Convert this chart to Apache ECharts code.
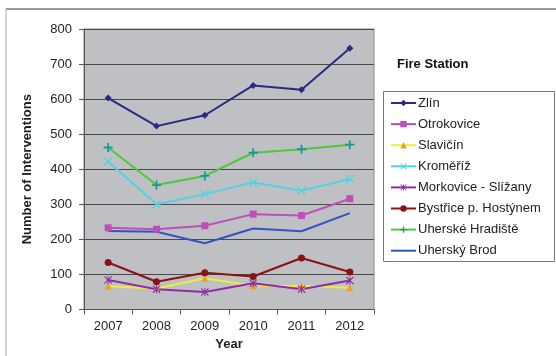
<!DOCTYPE html>
<html>
<head>
<meta charset="utf-8">
<script src="https://cdn.jsdelivr.net/npm/echarts@6/dist/echarts.min.js"></script>
<style>
  html, body { margin: 0; padding: 0; background: #fff; }
  #chart { width: 556px; height: 356px; }
</style>
</head>
<body>
<div id="chart"></div>
<script>
// Yearly interventions per fire station
const years = ['2007', '2008', '2009', '2010', '2011', '2012'];
const zlin        = [603, 523, 554, 639, 627, 745];
const otrokovice  = [233, 229, 239, 272, 268, 316];
const slavicin    = [66, 60, 89, 68, 67, 62];
const kromeriz    = [422, 300, 329, 362, 339, 372];
const morkovice   = [84, 58, 50, 75, 58, 83];
const bystrice    = [134, 79, 105, 94, 147, 107];
const hradiste    = [462, 355, 381, 447, 457, 470];
const brod        = [224, 222, 189, 231, 223, 275];
const yTicks = { min: 0, max: 800, step: 100 };

const FONT = '"Liberation Sans", Arial, sans-serif';

// marker shapes
const PLUS = 'path://M4,0H6V4H10V6H6V10H4V6H0V4H4Z';
const CROSS = 'path://M1,0L5,4L9,0L10,1L6,5L10,9L9,10L5,6L1,10L0,9L4,5L0,1Z';
const STAR = 'path://M1,0L5,4L9,0L10,1L6,5L10,9L9,10L5,6L1,10L0,9L4,5L0,1Z M4.4,0H5.6V10H4.4Z';

function line(name, data, color, symbol, size, markColor) {
  return {
    name, type: 'line', data,
    symbol, symbolSize: size, showSymbol: symbol !== 'none',
    lineStyle: { color, width: 2 },
    itemStyle: { color: markColor || color },
    emphasis: { disabled: true },
    animation: false
  };
}

const series = [
  line('Zlín', zlin, '#2b2a82', 'diamond', 7),
  line('Otrokovice', otrokovice, '#bb50b8', 'rect', 7),
  line('Slavičín', slavicin, '#eeee3a', 'triangle', 7, '#f0a020'),
  line('Kroměříž', kromeriz, '#4fd2e2', CROSS, 9),
  line('Morkovice - Slížany', morkovice, '#8e2ea2', STAR, 8),
  line('Bystřice p. Hostýnem', bystrice, '#8a1212', 'circle', 7),
  line('Uherské Hradiště', hradiste, '#4ec83c', PLUS, 9, '#1a9898'),
  line('Uherský Brod', brod, '#3353c2', 'none', 0)
];

const legendData = series.map(s => s.symbol === 'none'
  ? { name: s.name, itemStyle: { opacity: 0 } }
  : { name: s.name });

const chart = echarts.init(document.getElementById('chart'), null, { renderer: 'canvas' });
chart.setOption({
  backgroundColor: '#fff',
  animation: false,
  textStyle: { fontFamily: FONT },
  grid: {
    left: 84, right: 182, top: 29, bottom: 46.5,
    show: true, backgroundColor: '#bfc0c4', borderColor: '#8a8a8a', borderWidth: 1
  },
  xAxis: {
    type: 'category', data: years, boundaryGap: true,
    name: 'Year', nameLocation: 'middle', nameGap: 28,
    nameTextStyle: { fontFamily: FONT, fontSize: 13, fontWeight: 'bold', color: '#222' },
    axisLine: { lineStyle: { color: '#555', width: 1 } },
    axisTick: { show: true, length: 5, interval: 0, lineStyle: { color: '#555' } },
    axisLabel: { fontFamily: FONT, fontSize: 13, color: '#222', margin: 10 }
  },
  yAxis: {
    type: 'value', min: yTicks.min, max: yTicks.max, interval: yTicks.step,
    name: 'Number of Interventions', nameLocation: 'middle', nameGap: 50,
    nameTextStyle: { fontFamily: FONT, fontSize: 13, fontWeight: 'bold', color: '#222' },
    axisLine: { show: true, lineStyle: { color: '#555', width: 1 } },
    axisTick: { show: true, length: 5, inside: false, lineStyle: { color: '#555' } },
    axisLabel: { fontFamily: FONT, fontSize: 13, color: '#222', margin: 12 },
    splitLine: { lineStyle: { color: '#4a4a4a', width: 1 } }
  },
  legend: {
    orient: 'vertical', left: 390, top: 96.5, padding: 0,
    itemWidth: 25, itemHeight: 8, itemGap: 8.1,
    data: legendData,
    textStyle: { fontFamily: FONT, fontSize: 13, color: '#222', padding: [0, 0, 0, -3] },
    selectedMode: false
  },
  graphic: [
    { type: 'line', shape: { x1: 6, y1: 9, x2: 556, y2: 9 }, style: { stroke: '#777', lineWidth: 1.5 } },
    { type: 'line', shape: { x1: 6, y1: 9, x2: 6, y2: 356 }, style: { stroke: '#aaa', lineWidth: 1 } },
    { type: 'rect', shape: { x: 383.5, y: 91.5, width: 171, height: 170 }, style: { fill: 'none', stroke: '#777', lineWidth: 1 } },
    { type: 'text', left: 397, top: 58, style: { text: 'Fire Station', font: 'bold 13px ' + FONT, fill: '#111' } }
  ],
  series
});
</script>
</body>
</html>
